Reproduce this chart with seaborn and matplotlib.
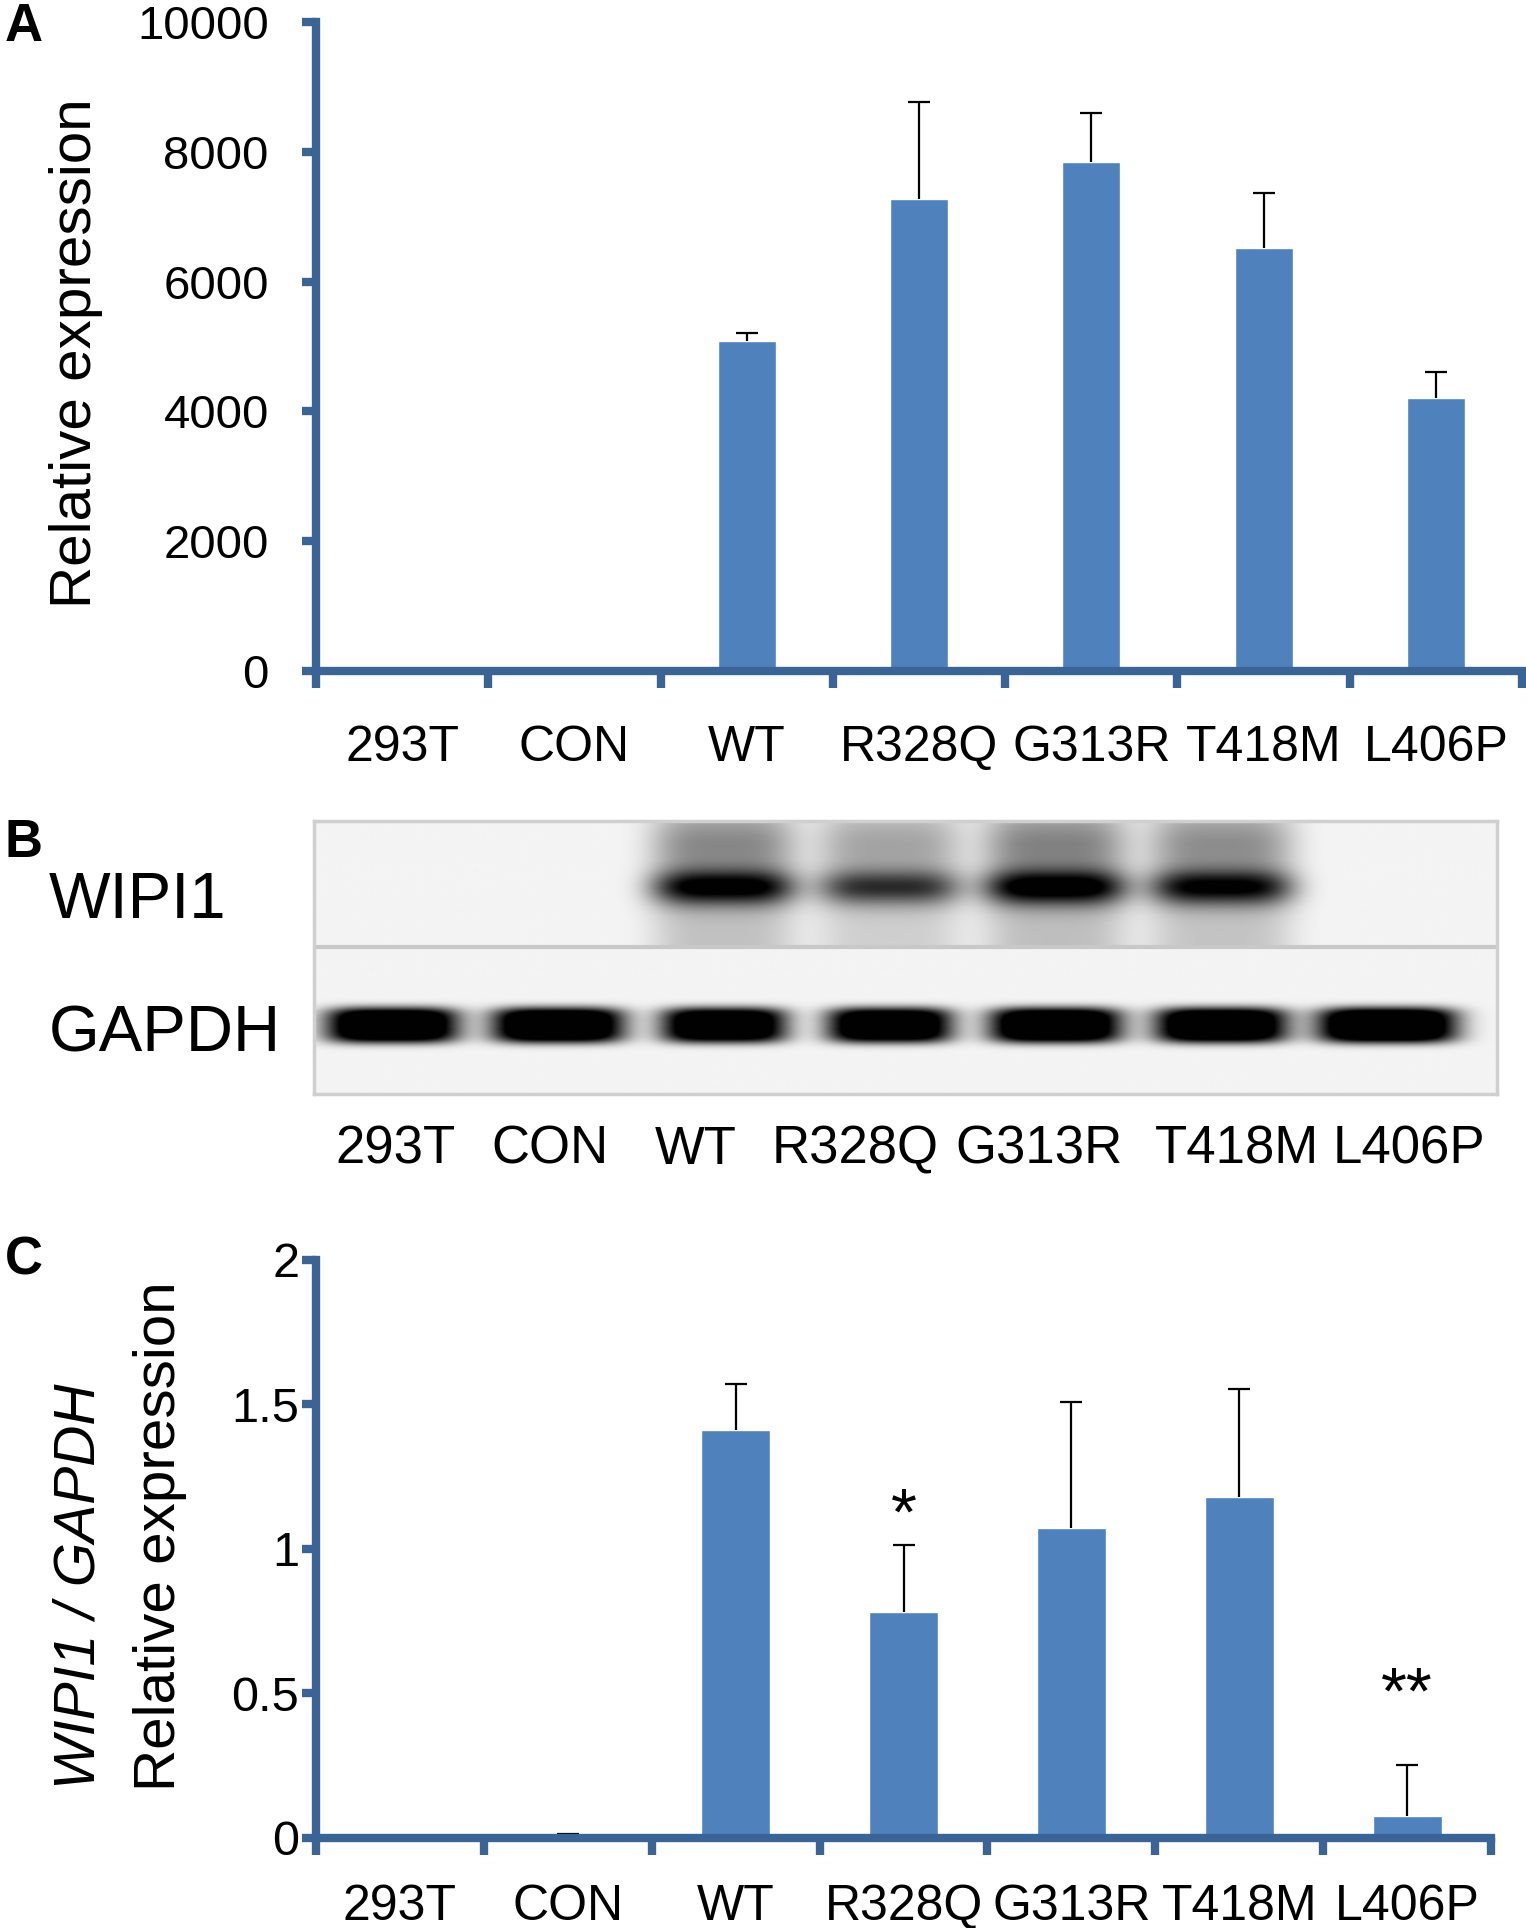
import matplotlib
matplotlib.use('Agg')
import matplotlib.pyplot as plt
import seaborn as sns
import pandas as pd
import numpy as np

# data
samples = ['293T', 'CON', 'WT', 'R328Q', 'G313R', 'T418M', 'L406P']

a_mean = [0, 0, 5080, 7270, 7840, 6520, 4200]
a_err = [np.nan, np.nan, 128, 1500, 760, 850, 400]

c_mean = [0.005, 0.01, 1.413, 0.783, 1.072, 1.179, 0.077]
c_err = [0.002, 0.003, 0.157, 0.230, 0.438, 0.374, 0.174]
c_sig = ['', '', '', '*', '', '', '**']
c_sig_y = [0, 0, 0, 1.05, 0, 0, 0.43]

# western blot band strengths per lane (0 = no band)
wipi1_band = [0.0, 0.0, 0.95, 0.7, 1.0, 0.9, 0.0]
gapdh_band = [1.0, 1.0, 0.95, 0.95, 1.0, 1.0, 1.05]
blot_label_x = [0.02, 0.95, 1.83, 2.79, 3.90, 5.09, 6.13]

bar_color = '#4F81BD'
axis_color = '#3A6496'

sns.set_theme(style='white')
plt.rcParams['font.family'] = ['Liberation Sans', 'DejaVu Sans']
plt.rcParams['text.color'] = 'black'
plt.rcParams['xtick.color'] = 'black'
plt.rcParams['ytick.color'] = 'black'

fig = plt.figure(figsize=(15.26, 19.28), dpi=100)


def bar_panel(ax, mean, err, width, ymax, yticks, ylabels, ytick_size, ypad, xpad):
    df = pd.DataFrame({'sample': samples, 'value': mean})
    sns.barplot(data=df, x='sample', y='value', color=bar_color, saturation=1,
                width=width, errorbar=None, ax=ax, zorder=2)
    eb = ax.errorbar(np.arange(len(samples)), mean, yerr=[np.zeros(len(samples)), err],
                     fmt='none', ecolor='black', elinewidth=1.6, capsize=8, capthick=1.6, zorder=3)
    eb[1][0].set_visible(False)  # only the upper cap
    ax.set_xlim(-0.5, len(samples) - 0.5)
    ax.set_ylim(0, ymax)
    for s in ['top', 'right']:
        ax.spines[s].set_visible(False)
    for s in ['left', 'bottom']:
        ax.spines[s].set_color(axis_color)
        ax.spines[s].set_linewidth(6)
        ax.spines[s].set_zorder(4)
    ax.set_yticks(yticks)
    ax.set_yticklabels(ylabels)
    ax.set_xticks(np.arange(len(samples)))
    ax.set_xticklabels(samples)
    ax.set_xticks(np.arange(len(samples) + 1) - 0.5, minor=True)
    ax.tick_params(axis='y', direction='out', length=10, width=6, color=axis_color,
                   labelcolor='black', labelsize=ytick_size, pad=ypad, left=True)
    ax.tick_params(axis='x', which='major', length=0, labelsize=36, labelcolor='black', pad=xpad)
    ax.tick_params(axis='x', which='minor', direction='out', length=12, width=6,
                   color=axis_color, bottom=True)
    ax.set_xlabel('')
    ax.set_ylabel('')


# panel A
axA = fig.add_axes([0.2071, 0.652, 0.7903, 0.3366])
bar_panel(axA, a_mean, a_err, 0.336, 10000, range(0, 10001, 2000),
          [str(v) for v in range(0, 10001, 2000)], 34, 24, 39)
fig.text(0.050, 0.817, 'Relative expression', rotation=90, fontsize=42,
         ha='center', va='center')

# panel B: blot image built from band strengths
axB = fig.add_axes([0.2058, 0.4326, 0.7752, 0.1416])
x0, x1 = -0.47, 6.66
xs = np.linspace(x0, x1, 1200)
ys = np.linspace(0, 1, 300)
X, Y = np.meshgrid(xs, ys)
dark = np.zeros_like(X)
top = Y < 0.46
for i in range(len(samples)):
    hx_w = np.exp(-((X - i) / 0.43) ** 4)
    hx_g = np.exp(-((X - i) / 0.40 / gapdh_band[i]) ** 4)
    w = wipi1_band[i]
    core = 0.95 * np.exp(-((Y - 0.245) / 0.065) ** 2)
    smear = 0.22 + 0.25 * np.exp(-((Y - 0.09) / 0.1) ** 2)
    dark += w * hx_w * (core + smear) * top
    g = gapdh_band[i]
    dark += g * hx_g * 1.5 * np.exp(-((Y - 0.75) / 0.065) ** 4) * (~top)
img = 0.955 - 0.95 * np.clip(dark, 0, 1)
axB.imshow(img, cmap='gray', vmin=0, vmax=1, extent=[x0, x1, 1, 0],
           aspect='auto', interpolation='bilinear')
axB.set_xlim(x0, x1)
axB.set_ylim(1, 0)
axB.axhline(0.46, color='#c8c8c8', lw=3)
for s in axB.spines.values():
    s.set_color('#cfcfcf')
    s.set_linewidth(2.5)
    s.set_visible(True)
axB.set_yticks([])
axB.set_xticks(blot_label_x)
axB.set_xticklabels(samples)
axB.tick_params(axis='x', length=0, labelsize=38, labelcolor='black', pad=22)
axB.grid(False)
fig.text(0.032, 0.5327, 'WIPI1', fontsize=47, va='center', ha='left')
fig.text(0.032, 0.4632, 'GAPDH', fontsize=47, va='center', ha='left')

# panel C
axC = fig.add_axes([0.2071, 0.0467, 0.770, 0.2998])
bar_panel(axC, c_mean, c_err, 0.41, 2, [0, 0.5, 1, 1.5, 2],
          ['0', '0.5', '1', '1.5', '2'], 35, 2, 33)
for i, (lab, yy) in enumerate(zip(c_sig, c_sig_y)):
    if lab:
        axC.text(i, yy, lab, ha='center', va='baseline', fontsize=48)
fig.text(0.052, 0.177, 'WIPI1 / GAPDH', rotation=90, fontsize=41, style='italic',
         ha='center', va='center')
fig.text(0.105, 0.203, 'Relative expression', rotation=90, fontsize=42,
         ha='center', va='center')

# panel letters
fig.text(0.003, 0.999, 'A', fontsize=38, weight='bold', va='top')
fig.text(0.003, 0.5757, 'B', fontsize=38, weight='bold', va='top')
fig.text(0.003, 0.359, 'C', fontsize=38, weight='bold', va='top')

fig.savefig('out.png', dpi=100)
